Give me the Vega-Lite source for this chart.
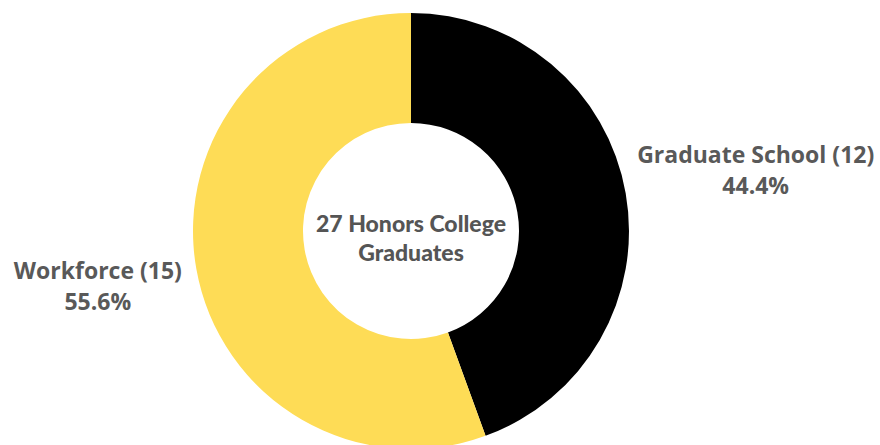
{
  "$schema": "https://vega.github.io/schema/vega-lite/v6.json",
  "autosize": {"type": "none"},
  "width": 822,
  "height": 428,
  "padding": {"left": 0, "right": 58, "top": 17, "bottom": 0},
  "background": "white",
  "view": {"stroke": null},
  "data": {"values": [
    {"category": "Graduate School", "count": 12},
    {"category": "Workforce", "count": 15}
  ]},
  "transform": [
    {"stack": "count", "groupby": [], "sort": [{"field": "category", "order": "ascending"}], "as": ["start", "end"]},
    {"calculate": "(datum.start + datum.end) / 2", "as": "mid"},
    {"calculate": "[datum.category + ' (' + datum.count + ')', format(datum.count / 27, '.1%')]", "as": "label"}
  ],
  "layer": [
    {
      "mark": {"type": "arc", "radius": 218, "radius2": 108},
      "encoding": {
        "theta": {"field": "start", "type": "quantitative", "scale": {"domain": [0, 27]}},
        "theta2": {"field": "end"},
        "color": {"field": "category", "type": "nominal",
          "scale": {"domain": ["Graduate School", "Workforce"], "range": ["#000000", "#FEDC56"]},
          "legend": null}
      }
    },
    {
      "transform": [{"filter": "datum.category == 'Graduate School'"}],
      "mark": {"type": "text", "radius": 350, "dy": -14, "font": "Open Sans", "fontWeight": "bold", "fontSize": 23, "lineHeight": 31, "color": "#595959", "align": "center", "baseline": "middle"},
      "encoding": {
        "theta": {"field": "mid", "type": "quantitative", "stack": null, "scale": {"domain": [0, 27]}},
        "text": {"field": "label"}
      }
    },
    {
      "transform": [{"filter": "datum.category == 'Workforce'"}],
      "mark": {"type": "text", "radius": 318, "dy": -14, "font": "Open Sans", "fontWeight": "bold", "fontSize": 23, "lineHeight": 31, "color": "#595959", "align": "center", "baseline": "middle"},
      "encoding": {
        "theta": {"field": "mid", "type": "quantitative", "stack": null, "scale": {"domain": [0, 27]}},
        "text": {"field": "label"}
      }
    },
    {
      "data": {"values": [{"center": ["27 Honors College", "Graduates"]}]},
      "transform": [],
      "mark": {"type": "text", "dy": -6, "font": "Lato", "fontWeight": 900, "fontSize": 23, "lineHeight": 29, "color": "#555555", "align": "center", "baseline": "middle"},
      "encoding": {"text": {"field": "center"}}
    }
  ]
}
